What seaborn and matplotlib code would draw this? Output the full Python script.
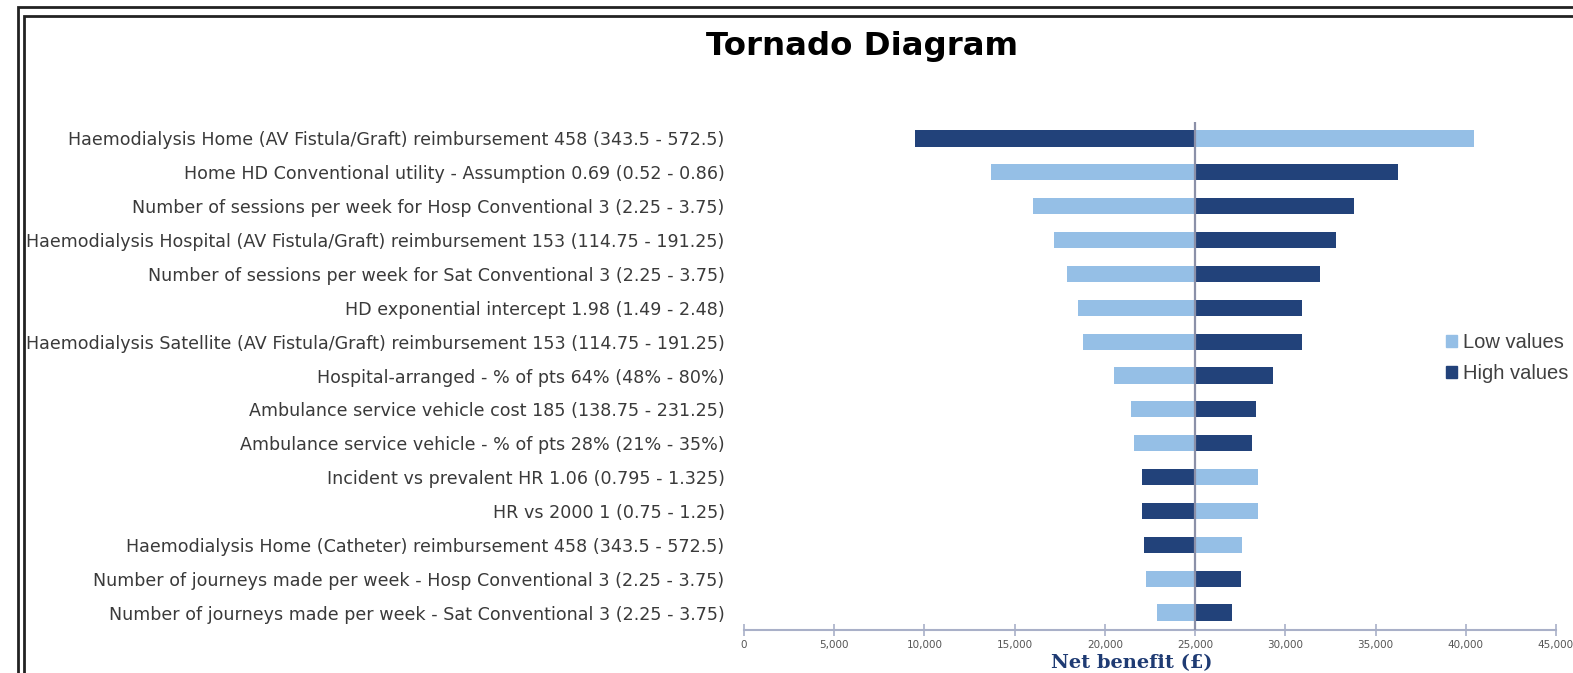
import matplotlib
matplotlib.use("Agg")
import matplotlib.pyplot as plt
import matplotlib.ticker as mticker
from matplotlib.patches import Rectangle, Patch
import seaborn as sns
import pandas as pd

# tornado data: net benefit (GBP) at the low / high value of each parameter
params = [
    "Haemodialysis Home (AV Fistula/Graft) reimbursement 458 (343.5 - 572.5)",
    "Home HD Conventional utility - Assumption 0.69 (0.52 - 0.86)",
    "Number of sessions per week for Hosp Conventional 3 (2.25 - 3.75)",
    "Haemodialysis Hospital (AV Fistula/Graft) reimbursement 153 (114.75 - 191.25)",
    "Number of sessions per week for Sat Conventional 3 (2.25 - 3.75)",
    "HD exponential intercept 1.98 (1.49 - 2.48)",
    "Haemodialysis Satellite (AV Fistula/Graft) reimbursement 153 (114.75 - 191.25)",
    "Hospital-arranged - % of pts 64% (48% - 80%)",
    "Ambulance service vehicle cost 185 (138.75 - 231.25)",
    "Ambulance service vehicle - % of pts 28% (21% - 35%)",
    "Incident vs prevalent HR 1.06 (0.795 - 1.325)",
    "HR vs 2000 1 (0.75 - 1.25)",
    "Haemodialysis Home (Catheter) reimbursement 458 (343.5 - 572.5)",
    "Number of journeys made per week - Hosp Conventional 3 (2.25 - 3.75)",
    "Number of journeys made per week - Sat Conventional 3 (2.25 - 3.75)",
]
low_vals = [40440, 13690, 16020, 17200, 17900, 18500, 18810, 20500,
            21450, 21610, 28480, 28480, 27620, 22300, 22890]
high_vals = [9460, 36240, 33830, 32800, 31940, 30920, 30920, 29320,
             28350, 28170, 22030, 22030, 22180, 27550, 27040]
base = 25000

light = "#95BFE6"
dark = "#22427A"

df = pd.concat([
    pd.DataFrame({"param": params, "value": low_vals, "case": "Low values"}),
    pd.DataFrame({"param": params, "value": high_vals, "case": "High values"}),
])

fig = plt.figure(figsize=(15.73, 6.73), dpi=100)
ax = fig.add_axes([744 / 1573, 1 - 629.5 / 673, 812 / 1573, 508 / 673])

sns.barplot(data=df, x="value", y="param", hue="case", dodge=False,
            palette={"Low values": light, "High values": dark}, saturation=1,
            width=0.48, orient="h", legend=False, ax=ax)

# shift every bar so it starts at the base case
for cont in ax.containers:
    for bar in cont:
        v = bar.get_width()
        bar.set_x(base)
        bar.set_width(v - base)

ax.axvline(base, color="#8B90A8", lw=1.6, zorder=3)

ax.set_xlim(0, 45000)
ax.xaxis.set_major_locator(mticker.MultipleLocator(5000))
ax.xaxis.set_major_formatter(mticker.StrMethodFormatter("{x:,.0f}"))
for s in ["top", "right", "left"]:
    ax.spines[s].set_visible(False)
ax.spines["bottom"].set_color("#A9B0C8")
ax.spines["bottom"].set_linewidth(1.5)
ax.tick_params(axis="x", direction="inout", length=9, width=1.2,
               color="#A9B0C8", labelsize=7.5, labelcolor="#555555", pad=3)
ax.tick_params(axis="y", length=0, pad=14, labelsize=12.6, labelcolor="#3a3a3a")
for t in ax.get_yticklabels():
    t.set_fontfamily("DejaVu Sans")
ax.set_ylabel("")
ax.set_xlabel("Net benefit (£)", fontsize=14, fontweight="bold",
              fontfamily="DejaVu Serif", color="#1F3B73")
ax.xaxis.set_label_coords(0.478, -0.048)
ax.xaxis.label.set_va("top")

fig.text(862 / 1573, 1 - 47 / 673, "Tornado Diagram", ha="center", va="center",
         fontsize=23.3, fontweight="bold", fontfamily="DejaVu Sans")

fig.legend(handles=[Patch(color=light, label="Low values"),
                    Patch(color=dark, label="High values")],
           loc="upper left", bbox_to_anchor=(1428 / 1573, 1 - 315 / 673),
           frameon=False, handlelength=0.55, handleheight=0.55,
           handletextpad=0.3, labelspacing=0.6, labelcolor="#404040",
           prop={"family": "Liberation Sans", "size": 14.5})

# double frame around the chart (cut on right and bottom like the source)
for x0, y0 in [(18, 7), (24, 16)]:
    fig.add_artist(Rectangle((x0 / 1573, -0.2), 2, 1.2 - y0 / 673,
                             transform=fig.transFigure, fill=False,
                             edgecolor="#222222", lw=2))

fig.savefig("out.png", dpi=100)
